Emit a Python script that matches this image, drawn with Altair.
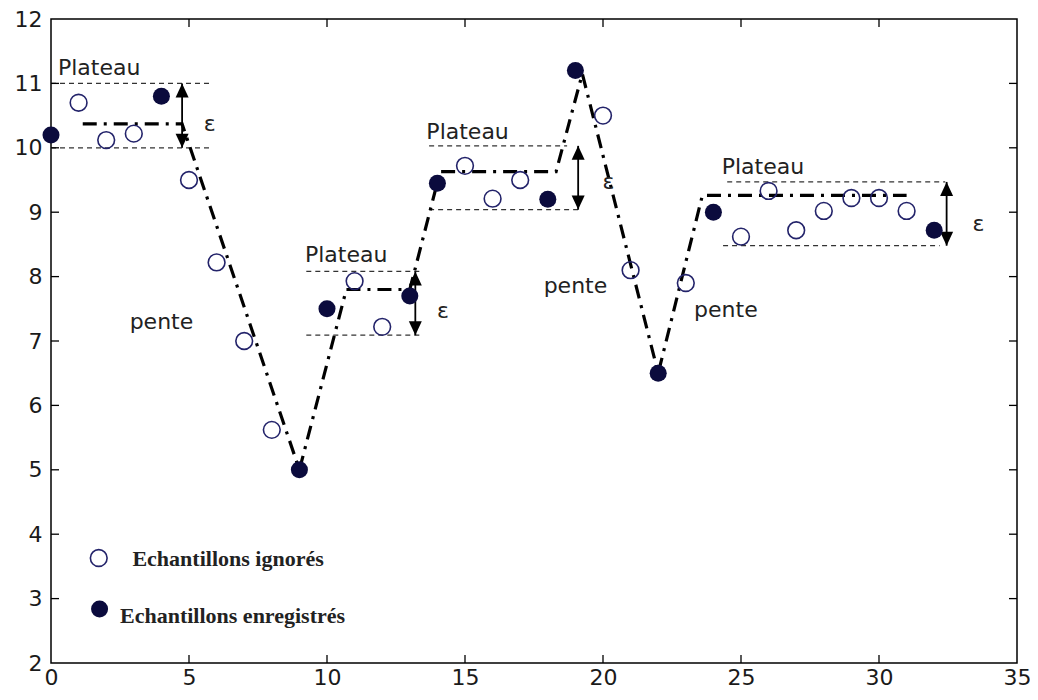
import altair as alt
import pandas as pd

# ---------------- data ----------------
recorded_x = [0, 4, 9, 10, 13, 14, 18, 19, 22, 24, 32]
recorded_y = [10.2, 10.8, 5.0, 7.5, 7.7, 9.45, 9.2, 11.2, 6.5, 9.0, 8.72]

ignored_x = [1, 2, 3, 5, 6, 7, 8, 11, 12, 15, 16, 17, 20, 21, 23, 25, 26, 27, 28, 29, 30, 31]
ignored_y = [10.7, 10.12, 10.22, 9.5, 8.22, 7.0, 5.62, 7.93, 7.22, 9.72, 9.21, 9.5,
             10.5, 8.1, 7.9, 8.62, 9.33, 8.72, 9.02, 9.22, 9.22, 9.02]

# dash-dot approximation path
path_x = [1.15, 4.75, 9.0, 10.7, 13.0, 14.1, 18.3, 19.25, 22.0, 23.6, 31.0]
path_y = [10.37, 10.37, 5.0, 7.8, 7.8, 9.63, 9.63, 11.15, 6.5, 9.26, 9.26]

# plateau tolerance bands (thin dashed lines)
band_y = [11.0, 10.0, 8.08, 7.09, 10.03, 9.04, 9.47, 8.48]
band_x1 = [0.0, 0.0, 9.25, 9.25, 13.7, 13.7, 24.5, 24.35]
band_x2 = [5.8, 5.8, 13.4, 13.4, 18.7, 19.2, 32.4, 32.2]

# epsilon double arrows
arrow_x = [4.75, 13.2, 19.1, 32.45]
arrow_top = [11.0, 8.08, 10.03, 9.47]
arrow_bot = [10.0, 7.09, 9.04, 8.48]

eps_x = [5.75, 14.2, 20.2, 33.6]
eps_y = [10.37, 7.46, 9.47, 8.82]
eps_text = ["ε", "ε", "ε", "ε"]

plateau_x = [0.25, 9.2, 13.6, 24.3]
plateau_y = [11.24, 8.33, 10.24, 9.7]
plateau_text = ["Plateau"] * 4

pente_x = [2.85, 17.85, 23.3]
pente_y = [7.3, 7.85, 7.48]
pente_text = ["pente"] * 3

legend_open = (1.73, 3.63)
legend_filled = (1.76, 2.84)
legend_text_x = [2.95, 2.5]
legend_text_y = [3.61, 2.73]
legend_text = ["Echantillons ignorés", "Echantillons enregistrés"]

x_ticks = [0, 5, 10, 15, 20, 25, 30, 35]
y_ticks = [2, 3, 4, 5, 6, 7, 8, 9, 10, 11, 12]

# ---------------- chart ----------------
W, H = 966, 644
TL = 8
NAVY_FILL = "#0b0b3d"
NAVY_LINE = "#23236a"

xs = alt.Scale(domain=[0, 35], nice=False, zero=False)
ys = alt.Scale(domain=[2, 12], nice=False, zero=False)

x_axis = alt.Axis(values=x_ticks, ticks=False, domain=False, grid=False,
                  labelFontSize=22, labelFont="DejaVu Sans",
                  labelColor="#1a1a1a", labelPadding=4, format="d",
                  labelFlush=False, labelOverlap=False)
y_axis = alt.Axis(values=y_ticks, ticks=False, domain=False, grid=False,
                  labelFontSize=22, labelFont="DejaVu Sans",
                  labelColor="#1a1a1a", labelPadding=9, format="d",
                  labelFlush=False, labelOverlap=False)

def X(f):
    return alt.X(f, type="quantitative", scale=xs, title=None, axis=x_axis)

def Y(f):
    return alt.Y(f, type="quantitative", scale=ys, title=None, axis=y_axis)

rec = pd.DataFrame({"x": recorded_x, "y": recorded_y})
ign = pd.DataFrame({"x": ignored_x, "y": ignored_y})
path = pd.DataFrame({"x": path_x, "y": path_y, "o": list(range(len(path_x)))})
bands = pd.DataFrame({"y": band_y, "x1": band_x1, "x2": band_x2})
arrows = pd.DataFrame({"x": arrow_x, "t": arrow_top, "b": arrow_bot})
eps = pd.DataFrame({"x": eps_x, "y": eps_y, "s": eps_text})
plat = pd.DataFrame({"x": plateau_x, "y": plateau_y, "s": plateau_text})
pente = pd.DataFrame({"x": pente_x, "y": pente_y, "s": pente_text})
leg_o = pd.DataFrame({"x": [legend_open[0]], "y": [legend_open[1]]})
leg_f = pd.DataFrame({"x": [legend_filled[0]], "y": [legend_filled[1]]})
leg_t = pd.DataFrame({"x": legend_text_x, "y": legend_text_y, "s": legend_text})
xt = pd.DataFrame({"v": x_ticks[1:-1]})
yt = pd.DataFrame({"v": y_ticks[1:-1]})

ticks_bottom = alt.Chart(xt).mark_rule(color="black", strokeWidth=1.3).encode(
    x=X("v"), y=alt.value(H), y2=alt.value(H - TL))
ticks_top = alt.Chart(xt).mark_rule(color="black", strokeWidth=1.3).encode(
    x=X("v"), y=alt.value(0), y2=alt.value(TL))
ticks_left = alt.Chart(yt).mark_rule(color="black", strokeWidth=1.3).encode(
    y=Y("v"), x=alt.value(0), x2=alt.value(TL))
ticks_right = alt.Chart(yt).mark_rule(color="black", strokeWidth=1.3).encode(
    y=Y("v"), x=alt.value(W), x2=alt.value(W - TL))

band_lines = alt.Chart(bands).mark_rule(color="#333333", strokeWidth=1.2, strokeDash=[5, 4]).encode(
    x=X("x1"), x2="x2", y=Y("y"))

dashdot = alt.Chart(path).mark_line(color="black", strokeWidth=3.2,
                                    strokeDash=[14, 7, 3, 7]).encode(
    x=X("x"), y=Y("y"), order="o")

shafts = alt.Chart(arrows).mark_rule(color="black", strokeWidth=1.8).encode(
    x=X("x"), y=Y("t"), y2="b")
heads_up = alt.Chart(arrows).mark_point(shape="M0,0L-0.65,1.4L0.65,1.4Z", filled=True,
                                         color="black", opacity=1, size=400).encode(
    x=X("x"), y=Y("t"))
heads_down = alt.Chart(arrows).mark_point(shape="M0,0L-0.65,-1.4L0.65,-1.4Z", filled=True,
                                           color="black", opacity=1, size=400).encode(
    x=X("x"), y=Y("b"))

open_pts = alt.Chart(ign).mark_point(shape="circle", filled=False, color=NAVY_LINE,
                                     strokeWidth=1.6, size=280, opacity=1).encode(
    x=X("x"), y=Y("y"))
filled_pts = alt.Chart(rec).mark_point(shape="circle", filled=True, color=NAVY_FILL,
                                       size=290, opacity=1).encode(
    x=X("x"), y=Y("y"))

eps_txt = alt.Chart(eps).mark_text(fontSize=22, font="DejaVu Sans", color="#222222",
                                   align="center", baseline="middle").encode(
    x=X("x"), y=Y("y"), text="s")
plat_txt = alt.Chart(plat).mark_text(fontSize=22, font="DejaVu Sans", color="#222222",
                                     align="left", baseline="middle").encode(
    x=X("x"), y=Y("y"), text="s")
pente_txt = alt.Chart(pente).mark_text(fontSize=22, font="DejaVu Sans", color="#222222",
                                       align="left", baseline="middle").encode(
    x=X("x"), y=Y("y"), text="s")

leg_open = alt.Chart(leg_o).mark_point(shape="circle", filled=False, color=NAVY_LINE,
                                       strokeWidth=1.6, size=280, opacity=1).encode(
    x=X("x"), y=Y("y"))
leg_fill = alt.Chart(leg_f).mark_point(shape="circle", filled=True, color=NAVY_FILL,
                                       size=290, opacity=1).encode(
    x=X("x"), y=Y("y"))
leg_txt = alt.Chart(leg_t).mark_text(fontSize=22, font="Liberation Serif", fontWeight="bold",
                                     color="#222222", align="left", baseline="middle").encode(
    x=X("x"), y=Y("y"), text="s")

chart = alt.layer(
    band_lines, dashdot, shafts, heads_up, heads_down,
    open_pts, filled_pts, eps_txt, plat_txt, pente_txt,
    leg_open, leg_fill, leg_txt,
    ticks_bottom, ticks_top, ticks_left, ticks_right,
).properties(
    width=W, height=H,
    autosize=alt.AutoSizeParams(type="none"),
    padding={"left": 43, "top": 11, "right": 13, "bottom": 27},
    background="white",
).configure_view(stroke="black", strokeWidth=1.5)

chart.save("out.html", embed_options={"renderer": "svg", "actions": False})
